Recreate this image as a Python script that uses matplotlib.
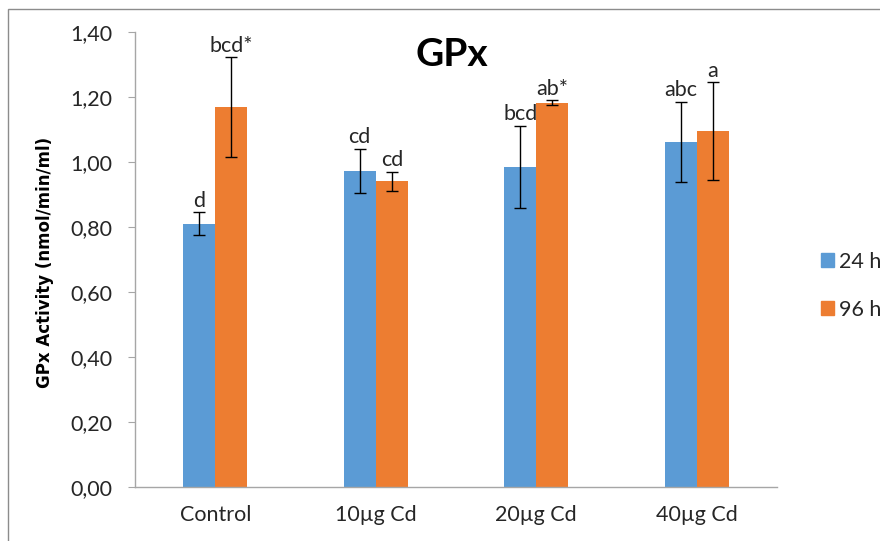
import matplotlib
matplotlib.use('Agg')
import matplotlib.pyplot as plt
import numpy as np
from matplotlib.patches import Rectangle, Patch

# data
groups = ['Control', '10µg Cd', '20µg Cd', '40µg Cd']
series = ['24 h', '96 h']
gpx_24h = [0.81, 0.973, 0.986, 1.062]
gpx_96h = [1.168, 0.941, 1.183, 1.095]
err_24h = [0.036, 0.068, 0.126, 0.124]
err_96h = [0.154, 0.029, 0.008, 0.151]
letters_24h = ['d', 'cd', 'bcd', 'abc']
letters_96h = ['bcd*', 'cd', 'ab*', 'a']
yticks = [0.0, 0.2, 0.4, 0.6, 0.8, 1.0, 1.2, 1.4]

BLUE = '#5B9BD5'
ORANGE = '#ED7D31'
AXIS = '#A6A6A6'
TEXT = '#262626'
FS = 15.5

plt.rcParams['font.family'] = ['Lato', 'DejaVu Sans']

fig = plt.figure(figsize=(8.8, 5.41), dpi=100)
ax = fig.add_axes([135 / 880, 1 - 487 / 541, (777 - 135) / 880, (487 - 32) / 541])

x = np.arange(len(groups))
w = 0.2
ekw = dict(ecolor='black', elinewidth=1, capsize=4, capthick=1)
ax.bar(x - w / 2, gpx_24h, w, color=BLUE, yerr=err_24h, error_kw=ekw)
ax.bar(x + w / 2, gpx_96h, w, color=ORANGE, yerr=err_96h, error_kw=ekw)

for xs, vals, errs, labs in [(x - w / 2, gpx_24h, err_24h, letters_24h),
                             (x + w / 2, gpx_96h, err_96h, letters_96h)]:
    for xi, v, e, lab in zip(xs, vals, errs, labs):
        ax.annotate(lab, (xi, v + e), xytext=(0, 1), textcoords='offset points',
                    ha='center', va='bottom', fontsize=FS, color=TEXT)

ax.set_xlim(-0.5, len(groups) - 0.5)
ax.set_ylim(0, 1.4)
ax.set_yticks(yticks)
ax.set_yticklabels([f'{t:.2f}'.replace('.', ',') for t in yticks])
ax.set_xticks(x)
ax.set_xticklabels(groups)

for s in ['top', 'right']:
    ax.spines[s].set_visible(False)
for s in ['left', 'bottom']:
    ax.spines[s].set_color(AXIS)
    ax.spines[s].set_linewidth(1)
ax.tick_params(axis='y', length=5, color=AXIS, labelsize=FS, labelcolor=TEXT, pad=11)
ax.tick_params(axis='x', length=0, labelsize=FS, labelcolor=TEXT, pad=13)

fig.text(452 / 880, 1 - 55 / 541, 'GPx', fontsize=28, fontweight='bold',
         ha='center', va='center', color='black')
fig.text(45 / 880, 1 - 262 / 541, 'GPx Activity (nmol/min/ml)', rotation=90,
         fontsize=12, fontweight='bold', family='DejaVu Sans',
         ha='center', va='center', color='black')

handles = [Patch(color=BLUE), Patch(color=ORANGE)]
fig.legend(handles, series, loc='upper left', bbox_to_anchor=(810 / 880, 1 - 241 / 541),
           frameon=False, fontsize=FS, handlelength=0.6, handleheight=0.6,
           handletextpad=0.25, labelspacing=1.3, borderpad=0, labelcolor=TEXT)

# outer chart-area border (cut off at right and bottom like the source)
fig.patches.append(Rectangle((8 / 880, -0.1), 1.2, 1.1 - 9 / 541,
                             transform=fig.transFigure, fill=False,
                             edgecolor='#8C8C8C', linewidth=1))

fig.savefig('out.png', dpi=100)
